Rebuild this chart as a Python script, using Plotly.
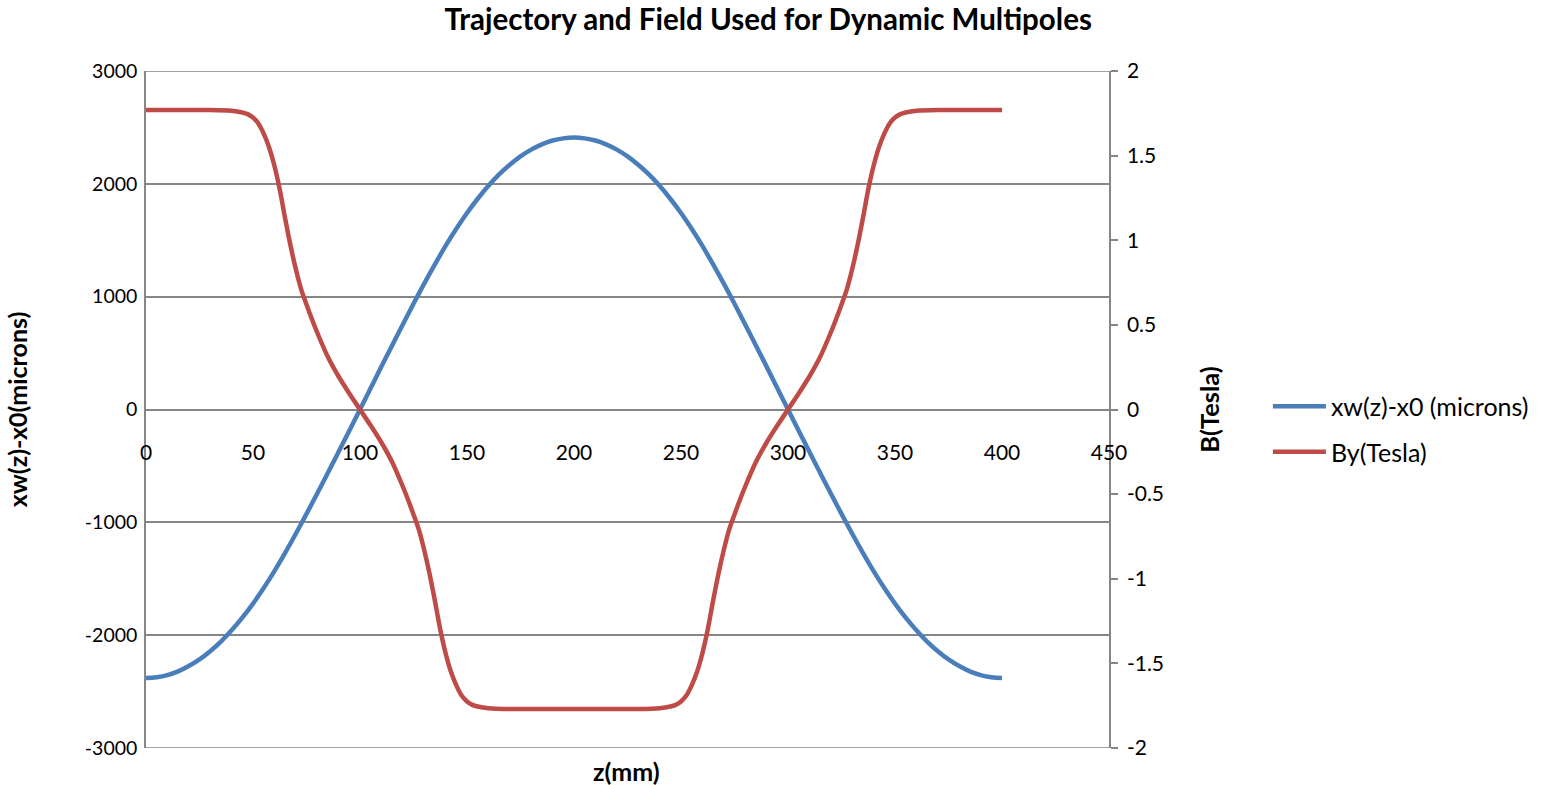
import plotly.graph_objects as go

# Trajectory xw(z)-x0 in microns, sampled every 5 mm
z_traj = [0, 5, 10, 15, 20, 25, 30, 35, 40, 45, 50, 55, 60, 65, 70, 75, 80, 85, 90, 95,
          100, 105, 110, 115, 120, 125, 130, 135, 140, 145, 150, 155, 160, 165, 170, 175,
          180, 185, 190, 195, 200, 205, 210, 215, 220, 225, 230, 235, 240, 245, 250, 255,
          260, 265, 270, 275, 280, 285, 290, 295, 300, 305, 310, 315, 320, 325, 330, 335,
          340, 345, 350, 355, 360, 365, 370, 375, 380, 385, 390, 395, 400]

xw_microns = [-2380, -2373, -2354, -2321, -2274, -2215, -2142, -2057, -1957, -1845,
              -1720, -1582, -1432, -1270, -1101, -925, -745, -561, -375, -188,
              0, 190, 380, 568, 754, 937, 1115, 1286, 1450, 1602,
              1742, 1868, 1982, 2083, 2169, 2243, 2303, 2350, 2384, 2403,
              2410, 2403, 2384, 2350, 2303, 2243, 2169, 2083, 1982, 1868,
              1742, 1602, 1450, 1286, 1115, 937, 754, 568, 380, 190,
              0, -188, -375, -561, -745, -925, -1101, -1270, -1432, -1582,
              -1720, -1845, -1957, -2057, -2142, -2215, -2274, -2321, -2354, -2373,
              -2380]

# Field By in Tesla (denser sampling where it changes quickly)
z_field = [0, 10, 20, 30, 40, 45, 47.5, 50, 52.5, 55, 57.5, 60, 62.5, 65, 67.5, 70, 72.5,
           75, 77.5, 80, 85, 90, 95, 100,
           105, 110, 115, 120, 122.5, 125, 127.5, 130, 132.5, 135, 137.5, 140, 142.5, 145,
           147.5, 150, 152.5, 155, 160, 170, 180, 190, 200,
           210, 220, 230, 240, 245, 247.5, 250, 252.5, 255, 257.5, 260, 262.5, 265, 267.5,
           270, 272.5, 275, 277.5, 280, 285, 290, 295, 300,
           305, 310, 315, 320, 322.5, 325, 327.5, 330, 332.5, 335, 337.5, 340, 342.5, 345,
           347.5, 350, 352.5, 355, 360, 370, 380, 390, 400]

by_tesla = [1.77, 1.77, 1.77, 1.77, 1.765, 1.755, 1.745, 1.725, 1.69, 1.63, 1.55, 1.44, 1.30,
            1.13, 0.97, 0.83, 0.71, 0.62, 0.535, 0.455, 0.31, 0.195, 0.095, 0.0,
            -0.095, -0.195, -0.31, -0.455, -0.535, -0.62, -0.71, -0.83, -0.97, -1.13, -1.30,
            -1.44, -1.55, -1.63, -1.69, -1.725, -1.745, -1.755, -1.765, -1.77, -1.77, -1.77,
            -1.77,
            -1.77, -1.77, -1.77, -1.765, -1.755, -1.745, -1.725, -1.69, -1.63, -1.55, -1.44,
            -1.30, -1.13, -0.97, -0.83, -0.71, -0.62, -0.535, -0.455, -0.31, -0.195, -0.095,
            0.0,
            0.095, 0.195, 0.31, 0.455, 0.535, 0.62, 0.71, 0.83, 0.97, 1.13, 1.30, 1.44, 1.55,
            1.63, 1.69, 1.725, 1.745, 1.755, 1.765, 1.77, 1.77, 1.77, 1.77]

x_ticks = [0, 50, 100, 150, 200, 250, 300, 350, 400, 450]
left_ticks = [-3000, -2000, -1000, 0, 1000, 2000, 3000]
right_ticks = [-2, -1.5, -1, -0.5, 0, 0.5, 1, 1.5, 2]

FONT = "Lato"
GRID = "#868686"
TITLE_SIZE = 25

fig = go.Figure()
fig.add_trace(go.Scatter(x=z_traj, y=xw_microns, name="xw(z)-x0 (microns)", mode="lines",
                         line=dict(color="#4A7EBB", width=4.5, shape="spline", smoothing=1.0),
                         legendgroup="a"))
fig.add_trace(go.Scatter(x=z_field, y=by_tesla, name="By(Tesla)", mode="lines", yaxis="y2",
                         line=dict(color="#BE4B48", width=4.5, shape="spline", smoothing=0.8),
                         legendgroup="b"))

fig.update_layout(
    width=1541, height=785,
    margin=dict(l=146, r=432, t=71, b=37, autoexpand=False),
    paper_bgcolor="white", plot_bgcolor="white",
    font=dict(family=FONT, size=21, color="black"),
    title=dict(text="<b>Trajectory and Field Used for Dynamic Multipoles</b>",
               x=0.4985, xanchor="center", y=1 - 20 / 785, yanchor="middle", yref="container",
               font=dict(family=FONT, size=29.5, color="black")),
    xaxis=dict(range=[0, 450], tickvals=x_ticks, ticktext=[str(v) for v in x_ticks],
               showgrid=False, zeroline=False, showline=False, ticks="",
               anchor="free", position=0.5, ticklabelstandoff=28,
               tickfont=dict(family=FONT, size=21)),
    yaxis=dict(range=[-3000, 3000], tickvals=left_ticks, ticktext=[str(v) for v in left_ticks],
               showgrid=True, gridcolor=GRID, gridwidth=1.5, zeroline=False,
               showline=True, linecolor=GRID, linewidth=1.5, ticks="",
               ticklabelstandoff=3, tickfont=dict(family=FONT, size=19.5),
               title=dict(text="<b>xw(z)-x0(microns)</b>", standoff=50,
                          font=dict(family=FONT, size=TITLE_SIZE))),
    yaxis2=dict(range=[-2, 2], tickvals=right_ticks, ticktext=[str(v) for v in right_ticks],
                overlaying="y", side="right", showgrid=False, zeroline=False,
                showline=True, linecolor=GRID, linewidth=1.5,
                ticks="outside", ticklen=7, tickcolor=GRID, tickwidth=1.5,
                ticklabelstandoff=5, tickfont=dict(family=FONT, size=21),
                title=dict(text="<b>B(Tesla)</b>", standoff=38,
                           font=dict(family=FONT, size=TITLE_SIZE + 0.5))),
    legend=dict(x=1.165, y=(748 - 429) / 677, xanchor="left", yanchor="middle",
                font=dict(family=FONT, size=25), tracegroupgap=10,
                traceorder="grouped", itemwidth=53, bgcolor="rgba(0,0,0,0)"),
    annotations=[dict(text="<b>z(mm)</b>", x=0.4985, xref="paper", y=-(771 - 748) / 677,
                      yref="paper", yanchor="middle", showarrow=False,
                      font=dict(family=FONT, size=TITLE_SIZE))],
    shapes=[
        dict(type="line", xref="paper", yref="y", x0=0, x1=1, y0=3000, y1=3000,
             line=dict(color=GRID, width=1.5), layer="below"),
        dict(type="line", xref="paper", yref="y", x0=0, x1=1, y0=-3000, y1=-3000,
             line=dict(color=GRID, width=1.5), layer="below"),
    ],
)

fig.write_html("out.html")
